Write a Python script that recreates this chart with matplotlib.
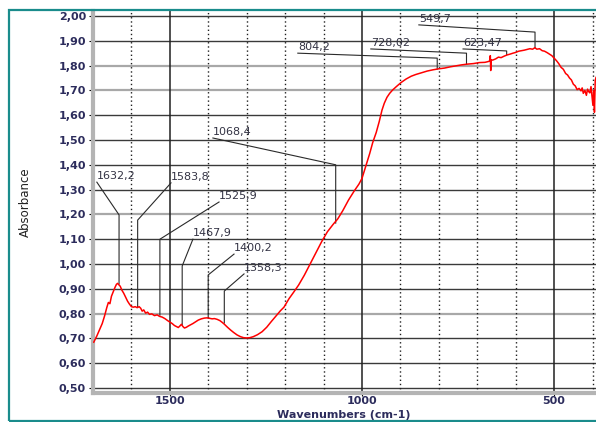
import matplotlib
matplotlib.use("Agg")
import matplotlib.pyplot as plt
from matplotlib.patches import Rectangle

# spectrum (wavenumber, absorbance)
wavenumber = [1698, 1690, 1683, 1676, 1670, 1664, 1660, 1656, 1652, 1647, 1643, 1639, 1636, 1632,
              1629, 1625, 1620, 1615, 1610, 1605, 1600, 1595, 1590, 1585, 1580, 1576, 1572, 1568,
              1563, 1558, 1553, 1547, 1540, 1533, 1527, 1520, 1513, 1505, 1500, 1494, 1488, 1482,
              1478, 1474, 1470, 1466, 1462, 1457, 1452, 1446, 1440, 1433, 1426, 1418, 1410, 1403,
              1397, 1390, 1384, 1377, 1370, 1364, 1358, 1350, 1342, 1334, 1325, 1316, 1308, 1300,
              1292, 1283, 1272, 1260, 1248, 1236, 1224, 1212, 1203, 1190, 1178, 1165, 1150, 1135,
              1120, 1105, 1090, 1075, 1063, 1050, 1035, 1020, 1008, 1000, 995, 988, 980, 972, 963,
              955, 948, 942, 935, 928, 920, 910, 898, 885, 872, 860, 845, 830, 815, 800, 785, 770,
              755, 740, 725, 710, 695, 680, 672, 668, 666, 665, 664, 660, 652, 645, 638, 630, 622,
              615, 607, 600, 592, 585, 578, 570, 563, 556, 550, 545, 538, 531, 525, 518, 512, 506,
              500, 494, 488, 482, 476, 470, 465, 460, 455, 450, 445, 440, 435, 430, 427, 424, 420,
              416, 413, 410, 407, 404, 401, 399, 397, 395, 393, 391]
absorbance = [0.685, 0.71, 0.735, 0.76, 0.79, 0.825, 0.845, 0.84, 0.87, 0.89, 0.905, 0.918, 0.922, 0.915,
              0.91, 0.895, 0.882, 0.866, 0.85, 0.838, 0.828, 0.826, 0.828, 0.824, 0.828, 0.822, 0.81, 0.815,
              0.802, 0.806, 0.797, 0.799, 0.792, 0.795, 0.789, 0.786, 0.78, 0.771, 0.766, 0.76, 0.752, 0.747,
              0.744, 0.75, 0.757, 0.748, 0.742, 0.745, 0.75, 0.755, 0.76, 0.767, 0.774, 0.779, 0.782, 0.783,
              0.781, 0.779, 0.78, 0.777, 0.772, 0.765, 0.757, 0.745, 0.734, 0.724, 0.714, 0.707, 0.703, 0.702,
              0.703, 0.707, 0.715, 0.727, 0.745, 0.768, 0.79, 0.812, 0.826, 0.86, 0.886, 0.915, 0.955, 1.0,
              1.045, 1.09, 1.13, 1.16, 1.182, 1.215, 1.258, 1.295, 1.322, 1.345, 1.37, 1.405, 1.445, 1.49, 1.53,
              1.575, 1.62, 1.648, 1.672, 1.688, 1.702, 1.716, 1.732, 1.746, 1.757, 1.764, 1.771, 1.778, 1.783,
              1.787, 1.79, 1.795, 1.799, 1.803, 1.806, 1.808, 1.812, 1.813, 1.816, 1.818, 1.84, 1.78, 1.823,
              1.822, 1.827, 1.834, 1.832, 1.838, 1.843, 1.846, 1.85, 1.853, 1.858, 1.86, 1.862, 1.865, 1.868,
              1.866, 1.872, 1.866, 1.868, 1.86, 1.858, 1.852, 1.846, 1.84, 1.83, 1.82, 1.808, 1.793, 1.785,
              1.768, 1.762, 1.75, 1.742, 1.725, 1.718, 1.703, 1.708, 1.698, 1.71, 1.688, 1.7, 1.68, 1.705,
              1.695, 1.69, 1.715, 1.67, 1.64, 1.70, 1.612, 1.74, 1.752]

# peak labels: peak position, label, curve value, elbow y, label start (x, y)
peak_pos = [1632.2, 1583.8, 1525.9, 1467.9, 1400.2, 1358.3, 1068.4, 804.2, 728.02, 623.47, 549.7]
peak_text = ["1632,2", "1583,8", "1525,9", "1467,9", "1400,2", "1358,3", "1068,4",
             "804,2", "728,02", "623,47", "549,7"]
peak_abs = [0.92, 0.827, 0.794, 0.754, 0.782, 0.762, 1.165, 1.786, 1.806, 1.845, 1.871]
elbow_y = [1.198, 1.177, 1.10, 0.992, 0.956, 0.891, 1.40, 1.83, 1.85, 1.859, 1.935]
label_x = [1690, 1497, 1372, 1440, 1333, 1307, 1388, 1167, 977, 737, 852]
label_y = [1.33, 1.327, 1.25, 1.10, 1.04, 0.96, 1.508, 1.85, 1.867, 1.867, 1.964]

W, H = 596, 422
fig = plt.figure(figsize=(W / 100, H / 100), dpi=100)
ax = fig.add_axes([93 / W, 1 - 393 / H, (W - 93) / W, (393 - 11) / H])

# frame round the whole picture
fig.patches.append(Rectangle((9 / W, 1.5 / H), 1.2, 1 - 11 / H, transform=fig.transFigure,
                             fill=False, edgecolor="#1a8c8c", linewidth=1.6))

yt = [0.5 + 0.1 * i for i in range(16)]
for v in yt:
    light = round(v, 1) in (0.8, 1.2, 1.7, 1.8)
    ax.axhline(v, color="#a8a8a8" if light else "#3a3a3a", lw=1.6 if light else 1.0, zorder=1)
for v in range(400, 1800, 100):
    if v % 500 == 0:
        ax.axvline(v, color="#202020", lw=1.1, zorder=1)
    else:
        ax.axvline(v, color="#202020", lw=1.0, ls=(0, (1, 2)), zorder=1)

ax.plot(wavenumber, absorbance, color="#ff0000", lw=1.1, zorder=3)

for i in range(len(peak_pos)):
    ax.plot([label_x[i], peak_pos[i], peak_pos[i]], [label_y[i], elbow_y[i], peak_abs[i]],
            color="#2a2a2a", lw=0.8, zorder=2)
    ax.text(label_x[i], label_y[i] + 0.004, peak_text[i], ha="left", va="bottom",
            fontsize=8, color="#333344", zorder=4)

ax.set_xlim(1700, 391)
ax.set_ylim(0.48, 2.02)
ax.set_yticks(yt)
ax.set_yticklabels([("%.2f" % v).replace(".", ",") for v in yt])
ax.set_xticks([1500, 1000, 500])
ax.set_xticklabels(["1500", "1000", "500"])
ax.tick_params(axis="both", labelsize=8, labelcolor="#2c2c5c", length=3, width=0.8, pad=2)
ax.tick_params(axis="x", length=2, pad=0.5)
for lab in ax.get_yticklabels() + ax.get_xticklabels():
    lab.set_fontweight("bold")

for s in ["top", "right"]:
    ax.spines[s].set_visible(False)
for s in ["left", "bottom"]:
    ax.spines[s].set_color("#b4b4b4")
    ax.spines[s].set_linewidth(3)

fig.text(344 / W, 1 - 415 / H, "Wavenumbers (cm-1)", ha="center", va="center",
         fontsize=8, fontweight="bold", color="#2c2c5c")
fig.text(25 / W, 1 - 202 / H, "Absorbance", rotation=90, ha="center", va="center",
         fontsize=8.5, family=["Liberation Sans Narrow", "DejaVu Sans"], color="#222222")

fig.savefig("out.png", dpi=100)
